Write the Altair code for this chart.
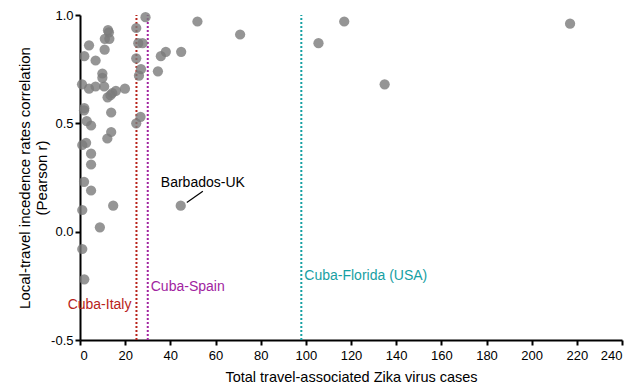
import altair as alt
import pandas as pd

# Scatter data: total travel-associated Zika cases vs Pearson r
cases = [4.0, 1.9, 6.9, 10.9, 12.8, 12.4, 11.0, 13.0, 9.9, 9.9,
         24.9, 29.0, 25.8, 27.7, 24.9, 27.0, 26.1,
         0.9, 4.0, 6.9, 10.7, 12.2, 14.3, 15.9, 19.9, 13.5,
         1.9, 1.8, 3.0, 4.9, 13.8, 13.8, 12.1, 24.9, 26.8, 34.5,
         2.7, 1.0, 4.9, 4.9, 1.8, 4.9, 14.7, 1.0, 8.8, 1.0, 1.9,
         52.0, 70.9, 38.0, 35.8, 44.8, 105.6, 117.0, 134.9, 217.0, 44.6]
pearson_r = [0.86, 0.81, 0.79, 0.84, 0.92, 0.93, 0.89, 0.89, 0.73, 0.71,
             0.94, 0.99, 0.87, 0.87, 0.80, 0.75, 0.72,
             0.68, 0.66, 0.67, 0.67, 0.62, 0.64, 0.65, 0.66, 0.63,
             0.57, 0.56, 0.51, 0.49, 0.55, 0.46, 0.43, 0.50, 0.53, 0.74,
             0.41, 0.40, 0.36, 0.31, 0.23, 0.19, 0.12, 0.10, 0.02, -0.08, -0.22,
             0.97, 0.91, 0.83, 0.81, 0.83, 0.87, 0.97, 0.68, 0.96, 0.12]

# Threshold lines
line_names = ["Cuba-Italy", "Cuba-Spain", "Cuba-Florida (USA)"]
line_x = [25, 30, 98]
line_colors = ["#b8231b", "#a1249f", "#17a0a3"]
label_y = [-0.338, -0.255, -0.205]

# Annotation for Barbados-UK
ann_text = ["Barbados-UK"]
ann_x = [54.4]
ann_y = [0.225]
conn_x = [47.3]
conn_y = [0.135]
conn_x2 = [54.4]
conn_y2 = [0.186]

df = pd.DataFrame({"cases": cases, "r": pearson_r})
lines = pd.DataFrame({"name": line_names, "x": line_x, "color": line_colors,
                      "ly": label_y, "y0": [-0.5] * 3, "y1": [1.0] * 3})
ann = pd.DataFrame({"t": ann_text, "x": ann_x, "y": ann_y})
conn = pd.DataFrame({"x": conn_x, "y": conn_y, "x2": conn_x2, "y2": conn_y2})

FONT = "Liberation Sans"
xs = alt.Scale(domain=[0, 240], nice=False, zero=False)
ys = alt.Scale(domain=[-0.5, 1.0], nice=False, zero=False)

points = alt.Chart(df).mark_circle(size=105, color="#7a7a7a", opacity=0.8).encode(
    x=alt.X("cases:Q", scale=xs,
            axis=alt.Axis(title="Total travel-associated Zika virus cases",
                          values=list(range(0, 241, 20)), format="d",
                          labelPadding=4, titlePadding=8, titleFontSize=14.5)),
    y=alt.Y("r:Q", scale=ys,
            axis=alt.Axis(title=["Local-travel incedence rates correlation", "(Pearson r)"],
                          values=[-0.5, 0.0, 0.5, 1.0], format=".1f",
                          labelExpr="replace(datum.label, '\u2212', '-')",
                          labelPadding=2, titlePadding=1, titleFontSize=15,
                          titleLineHeight=17)),
)

vlines = alt.Chart(lines).mark_rule(strokeDash=[2, 2], strokeWidth=2).encode(
    x="x:Q", y="y0:Q", y2="y1:Q",
    color=alt.Color("color:N", scale=None),
)

italy_lbl = alt.Chart(lines.iloc[[0]]).mark_text(align="right", dx=-5, fontSize=14, font=FONT).encode(
    x="x:Q", y="ly:Q", text="name:N", color=alt.Color("color:N", scale=None))
other_lbl = alt.Chart(lines.iloc[[1, 2]]).mark_text(align="left", dx=3, fontSize=14, font=FONT).encode(
    x="x:Q", y="ly:Q", text="name:N", color=alt.Color("color:N", scale=None))

ann_text_m = alt.Chart(ann).mark_text(fontSize=14, font=FONT, color="black").encode(
    x="x:Q", y="y:Q", text="t:N")
conn_m = alt.Chart(conn).mark_rule(color="black", strokeWidth=1.2).encode(
    x="x:Q", y="y:Q", x2="x2:Q", y2="y2:Q")

chart = alt.layer(vlines, points, italy_lbl, other_lbl, conn_m, ann_text_m).properties(
    width=542, height=325,
    autosize=alt.AutoSizeParams(type="none"),
    padding={"left": 80, "top": 15, "right": 13, "bottom": 50},
).configure_view(stroke=None).configure_axis(
    grid=False, domainColor="black", domainWidth=2, tickColor="black", tickWidth=2,
    tickSize=5, labelFont=FONT, titleFont=FONT, labelFontSize=13, titleFontSize=14,
    labelColor="black", titleColor="black", titleFontWeight="normal",
)

chart.save("out.html", embed_options={"renderer": "svg", "actions": False})
